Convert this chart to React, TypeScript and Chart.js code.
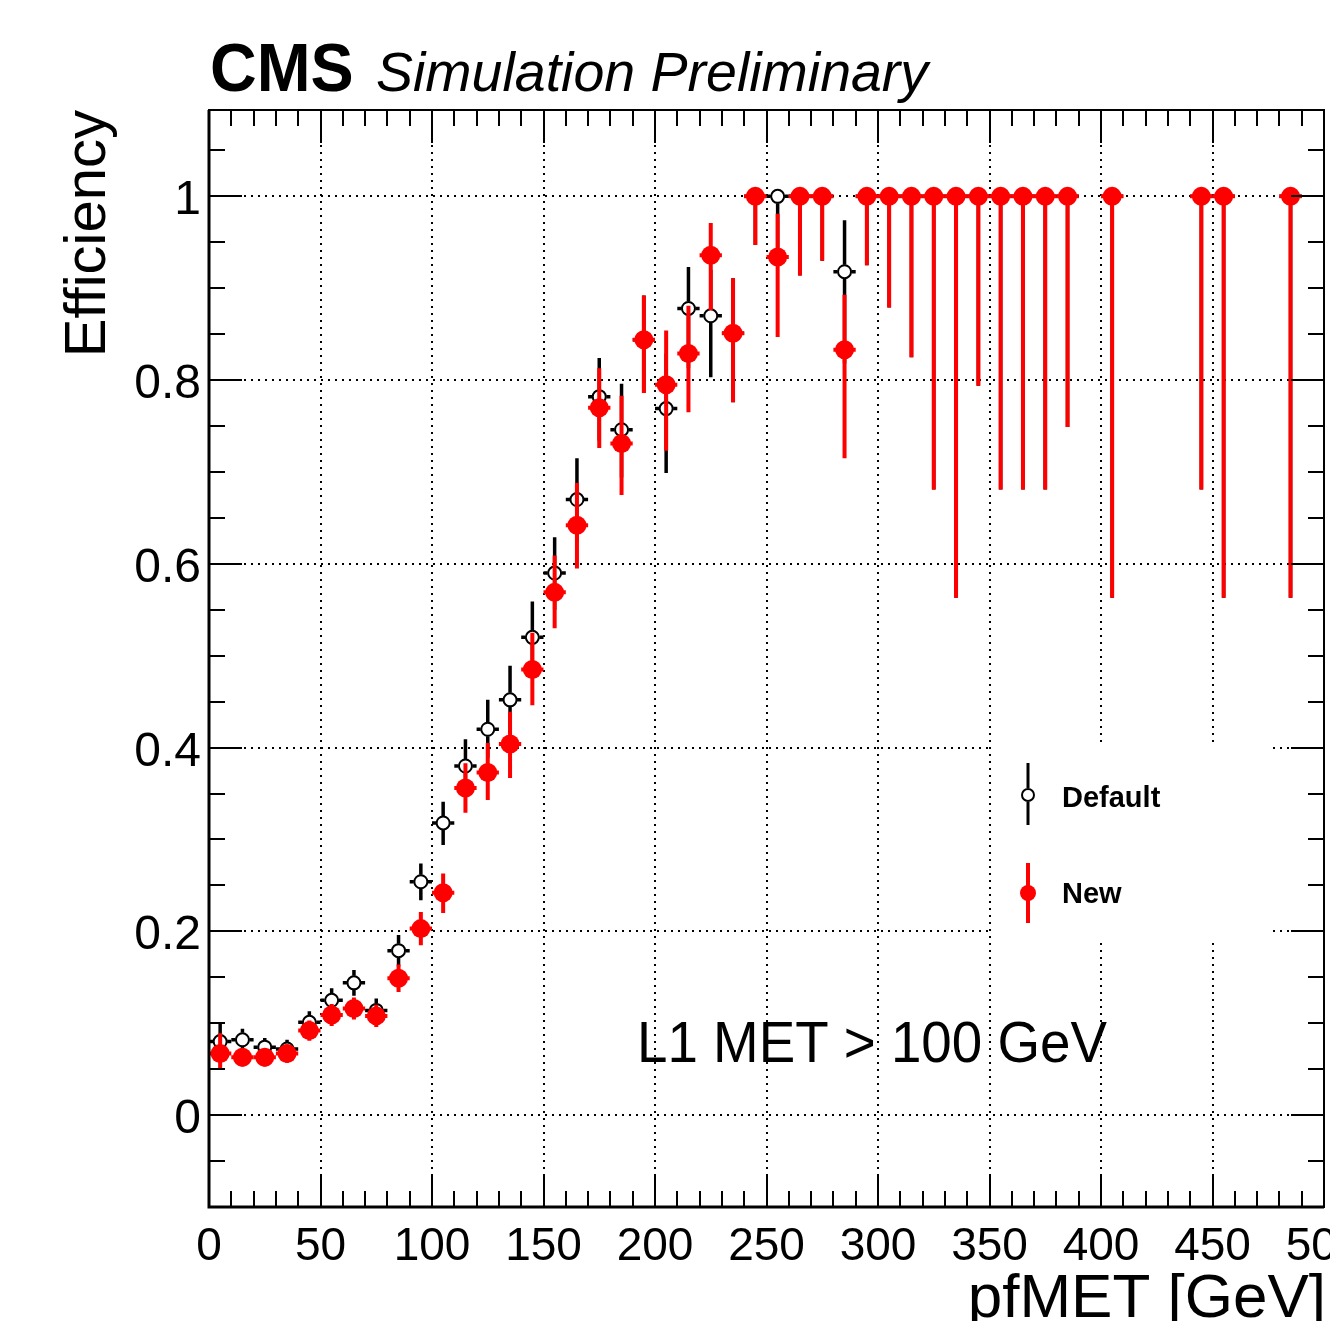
import React, { useEffect, useRef } from "react";
import { Chart, registerables } from "chart.js";

Chart.register(...registerables);

// ---------------- data ----------------
const binCenters = [5, 15, 25, 35, 45, 55, 65, 75, 85, 95, 105, 115, 125, 135, 145, 155, 165, 175, 185, 195, 205, 215, 225, 235, 245, 255, 265, 275, 285, 295, 305, 315, 325, 335, 345, 355, 365, 375, 385, 405, 445, 455, 485];
const binHalfWidth = 5;

const defaultEff = [0.080, 0.082, 0.074, 0.072, 0.101, 0.125, 0.144, 0.114, 0.179, 0.254, 0.318, 0.380, 0.420, 0.452, 0.520, 0.590, 0.670, 0.782, 0.746, 0.844, 0.769, 0.878, 0.870, 0.851, 1, 1, 1, 1, 0.918, 1, 1, 1, 1, 1, 1, 1, 1, 1, 1, 1, 1, 1, 1];
const defaultErrLow = [0.015, 0.012, 0.010, 0.010, 0.012, 0.013, 0.014, 0.013, 0.017, 0.020, 0.024, 0.028, 0.031, 0.036, 0.039, 0.040, 0.046, 0.048, 0.052, 0.058, 0.070, 0.065, 0.067, 0.075, 0.053, 0.070, 0.086, 0.070, 0.100, 0.075, 0.121, 0.175, 0.319, 0.437, 0.206, 0.319, 0.319, 0.319, 0.251, 0.437, 0.319, 0.437, 0.437];
const defaultErrHigh = [0.020, 0.012, 0.010, 0.010, 0.012, 0.013, 0.014, 0.013, 0.017, 0.020, 0.023, 0.029, 0.032, 0.037, 0.039, 0.039, 0.045, 0.042, 0.050, 0.048, 0.060, 0.045, 0.050, 0.060, 0, 0, 0, 0, 0.056, 0, 0, 0, 0, 0, 0, 0, 0, 0, 0, 0, 0, 0, 0];

const newEff = [0.067, 0.063, 0.063, 0.067, 0.092, 0.109, 0.116, 0.108, 0.149, 0.203, 0.242, 0.356, 0.373, 0.404, 0.485, 0.569, 0.642, 0.770, 0.731, 0.844, 0.795, 0.829, 0.936, 0.851, 1, 0.934, 1, 1, 0.833, 1, 1, 1, 1, 1, 1, 1, 1, 1, 1, 1, 1, 1, 1];
const newErrLow = [0.016, 0.010, 0.010, 0.010, 0.011, 0.012, 0.012, 0.012, 0.015, 0.018, 0.022, 0.027, 0.030, 0.037, 0.039, 0.039, 0.047, 0.044, 0.056, 0.058, 0.072, 0.064, 0.060, 0.075, 0.053, 0.087, 0.086, 0.070, 0.118, 0.075, 0.121, 0.175, 0.319, 0.437, 0.206, 0.319, 0.319, 0.319, 0.251, 0.437, 0.319, 0.437, 0.437];
const newErrHigh = [0.022, 0.010, 0.010, 0.010, 0.011, 0.012, 0.012, 0.012, 0.015, 0.018, 0.021, 0.027, 0.032, 0.035, 0.040, 0.040, 0.046, 0.043, 0.052, 0.048, 0.059, 0.052, 0.035, 0.060, 0, 0.047, 0, 0, 0.060, 0, 0, 0, 0, 0, 0, 0, 0, 0, 0, 0, 0, 0, 0];

const xMajorTicks = [0, 50, 100, 150, 200, 250, 300, 350, 400, 450, 500];
const xTickLabels = ["0", "50", "100", "150", "200", "250", "300", "350", "400", "450", "500"];
const yMajorTicks = [0, 0.2, 0.4, 0.6, 0.8, 1];
const yTickLabels = ["0", "0.2", "0.4", "0.6", "0.8", "1"];
const xGridValues = [50, 100, 150, 200, 250, 300, 350, 400, 450];
const yGridValues = [0, 0.2, 0.4, 0.6, 0.8, 1];

const xMin = 0, xMax = 500, yMin = -0.1, yMax = 1.094;
const seriesNames = ["Default", "New"];

const FONT = '"Liberation Sans", Arial, Helvetica, sans-serif';

// ---------------- plugin ----------------
function drawErrorBars(ctx: CanvasRenderingContext2D, chart: any, ds: any) {
  const x = chart.scales.x, y = chart.scales.y;
  ctx.save();
  ctx.strokeStyle = ds.errColor;
  ctx.lineWidth = ds.errWidth;
  ctx.lineCap = "butt";
  const gap = ds.errGap;
  for (let i = 0; i < ds.data.length; i++) {
    const p = ds.data[i];
    const px = x.getPixelForValue(p.x);
    const py = y.getPixelForValue(p.y);
    const top = y.getPixelForValue(p.y + ds.errHigh[i]);
    const bot = y.getPixelForValue(p.y - ds.errLow[i]);
    const l = x.getPixelForValue(p.x - binHalfWidth);
    const r = x.getPixelForValue(p.x + binHalfWidth);
    ctx.beginPath();
    if (py - gap > top) { ctx.moveTo(px, py - gap); ctx.lineTo(px, top); }
    if (bot > py + gap) { ctx.moveTo(px, py + gap); ctx.lineTo(px, bot); }
    if (px - gap > l) { ctx.moveTo(l, py); ctx.lineTo(px - gap, py); }
    if (r > px + gap) { ctx.moveTo(px + gap, py); ctx.lineTo(r, py); }
    ctx.stroke();
  }
  ctx.restore();
}

const rootPlugin = {
  id: "rootStyle",
  beforeDatasetsDraw(chart: any) {
    const { ctx, chartArea: ca, scales } = chart;
    const x = scales.x, y = scales.y;
    // annotation
    ctx.save();
    ctx.fillStyle = "#000";
    ctx.font = `57px ${FONT}`;
    ctx.textBaseline = "alphabetic";
    ctx.textAlign = "left";
    ctx.translate(637, 1062);
    ctx.scale(0.96, 1);
    ctx.fillText("L1 MET > 100 GeV", 0, 0);
    ctx.restore();
    // dotted grid
    ctx.save();
    ctx.strokeStyle = "#000";
    ctx.lineWidth = 2;
    ctx.setLineDash([2, 5]);
    ctx.beginPath();
    for (const v of xGridValues) {
      const px = Math.round(x.getPixelForValue(v));
      ctx.moveTo(px, ca.top);
      ctx.lineTo(px, ca.bottom);
    }
    for (const v of yGridValues) {
      const py = Math.round(y.getPixelForValue(v));
      ctx.moveTo(ca.left, py);
      ctx.lineTo(ca.right, py);
    }
    ctx.stroke();
    ctx.restore();
  },
  beforeDatasetDraw(chart: any, args: any) {
    const ds = chart.data.datasets[args.index];
    drawErrorBars(chart.ctx, chart, ds);
  },
  afterDatasetsDraw(chart: any) {
    const { ctx, chartArea: ca, scales } = chart;
    const x = scales.x, y = scales.y;

    // legend box
    ctx.save();
    ctx.fillStyle = "#fff";
    ctx.fillRect(992, 742, 278, 196);
    const legX = 1028;
    // Default entry
    ctx.strokeStyle = "#000";
    ctx.lineWidth = 3;
    ctx.beginPath();
    ctx.moveTo(legX, 763); ctx.lineTo(legX, 788);
    ctx.moveTo(legX, 802); ctx.lineTo(legX, 825);
    ctx.stroke();
    ctx.beginPath();
    ctx.arc(legX, 795, 6, 0, Math.PI * 2);
    ctx.fillStyle = "#fff";
    ctx.fill();
    ctx.lineWidth = 2;
    ctx.stroke();
    // New entry
    ctx.strokeStyle = "#ff0000";
    ctx.lineWidth = 4;
    ctx.beginPath();
    ctx.moveTo(legX, 863); ctx.lineTo(legX, 923);
    ctx.stroke();
    ctx.beginPath();
    ctx.arc(legX, 893, 8, 0, Math.PI * 2);
    ctx.fillStyle = "#ff0000";
    ctx.fill();
    ctx.fillStyle = "#000";
    ctx.font = `bold 29px ${FONT}`;
    ctx.textAlign = "left";
    ctx.textBaseline = "alphabetic";
    ctx.fillText(seriesNames[0], 1062, 807);
    ctx.fillText(seriesNames[1], 1062, 903);
    ctx.restore();

    // frame
    ctx.save();
    ctx.strokeStyle = "#000";
    ctx.lineWidth = 2;
    ctx.strokeRect(ca.left, ca.top, ca.right - ca.left, ca.bottom - ca.top);
    ctx.lineWidth = 3;
    ctx.beginPath();
    ctx.moveTo(ca.left, ca.top);
    ctx.lineTo(ca.left, ca.bottom);
    ctx.lineTo(ca.right, ca.bottom);
    ctx.stroke();

    // ticks
    ctx.lineWidth = 2;
    ctx.beginPath();
    const majX = 33, minX = 16;
    for (let v = xMin; v <= xMax + 1e-9; v += 10) {
      const isMaj = Math.abs(v % 50) < 1e-6;
      const len = isMaj ? majX : minX;
      const px = Math.round(x.getPixelForValue(v));
      ctx.moveTo(px, ca.bottom); ctx.lineTo(px, ca.bottom - len);
      ctx.moveTo(px, ca.top); ctx.lineTo(px, ca.top + len);
    }
    for (let k = -2; k <= 21; k++) {
      const v = k * 0.05;
      if (v > yMax) break;
      const isMaj = k % 4 === 0;
      const len = isMaj ? 33 : 16;
      const py = Math.round(y.getPixelForValue(v));
      ctx.moveTo(ca.left, py); ctx.lineTo(ca.left + len, py);
      ctx.moveTo(ca.right, py); ctx.lineTo(ca.right - len, py);
    }
    ctx.stroke();

    // tick labels
    ctx.fillStyle = "#000";
    ctx.font = `46px ${FONT}`;
    ctx.textAlign = "center";
    ctx.textBaseline = "alphabetic";
    xMajorTicks.forEach((v, i) => {
      ctx.fillText(xTickLabels[i], x.getPixelForValue(v), 1260);
    });
    ctx.font = `48px ${FONT}`;
    ctx.textAlign = "right";
    yMajorTicks.forEach((v, i) => {
      ctx.fillText(yTickLabels[i], 201, y.getPixelForValue(v) + 18);
    });

    // axis titles
    ctx.font = `62px ${FONT}`;
    ctx.textAlign = "right";
    ctx.fillText("pfMET [GeV]", 1326, 1317);
    ctx.save();
    ctx.translate(105, ca.top);
    ctx.rotate(-Math.PI / 2);
    ctx.font = `58px ${FONT}`;
    ctx.textAlign = "right";
    ctx.fillText("Efficiency", 0, 0);
    ctx.restore();

    // CMS header
    ctx.textAlign = "left";
    ctx.save();
    ctx.translate(210, 91);
    ctx.scale(0.95, 1);
    ctx.font = `bold 68px ${FONT}`;
    ctx.fillText("CMS", 0, 0);
    ctx.restore();
    ctx.font = `italic 55.5px ${FONT}`;
    ctx.fillText("Simulation Preliminary", 376, 91);
    ctx.restore();
  },
};

// ---------------- component ----------------
export default function App() {
  const canvasRef = useRef<HTMLCanvasElement | null>(null);

  useEffect(() => {
    document.body.style.margin = "0";
    const canvas = canvasRef.current;
    if (!canvas) return;
    const defaultPoints = binCenters.map((c, i) => ({ x: c, y: defaultEff[i] }));
    const newPoints = binCenters.map((c, i) => ({ x: c, y: newEff[i] }));

    const chart = new Chart(canvas, {
      type: "scatter",
      data: {
        datasets: [
          {
            label: seriesNames[1],
            data: newPoints,
            order: 0,
            pointStyle: "circle",
            pointRadius: 9.5,
            pointBackgroundColor: "#ff0000",
            pointBorderColor: "#ff0000",
            pointBorderWidth: 0,
            errLow: newErrLow,
            errHigh: newErrHigh,
            errColor: "#ff0000",
            errWidth: 4,
            errGap: 7,
          } as any,
          {
            label: seriesNames[0],
            data: defaultPoints,
            order: 1,
            pointStyle: "circle",
            pointRadius: 6.5,
            pointBackgroundColor: "#ffffff",
            pointBorderColor: "#000000",
            pointBorderWidth: 2,
            errLow: defaultErrLow,
            errHigh: defaultErrHigh,
            errColor: "#000000",
            errWidth: 3.5,
            errGap: 7,
          } as any,
        ],
      },
      options: {
        responsive: false,
        animation: false,
        devicePixelRatio: 1,
        layout: { autoPadding: false, padding: { left: 209, top: 110, right: 6, bottom: 114 } },
        scales: {
          x: { type: "linear", min: xMin, max: xMax, display: false },
          y: { type: "linear", min: yMin, max: yMax, display: false },
        },
        plugins: {
          legend: { display: false },
          tooltip: { enabled: false },
        },
        events: [],
      },
      plugins: [rootPlugin],
    });
    return () => chart.destroy();
  }, []);

  return (
    <div style={{ width: 1330, height: 1321, background: "#fff" }}>
      <canvas ref={canvasRef} width={1330} height={1321} style={{ display: "block", width: 1330, height: 1321 }} />
    </div>
  );
}
